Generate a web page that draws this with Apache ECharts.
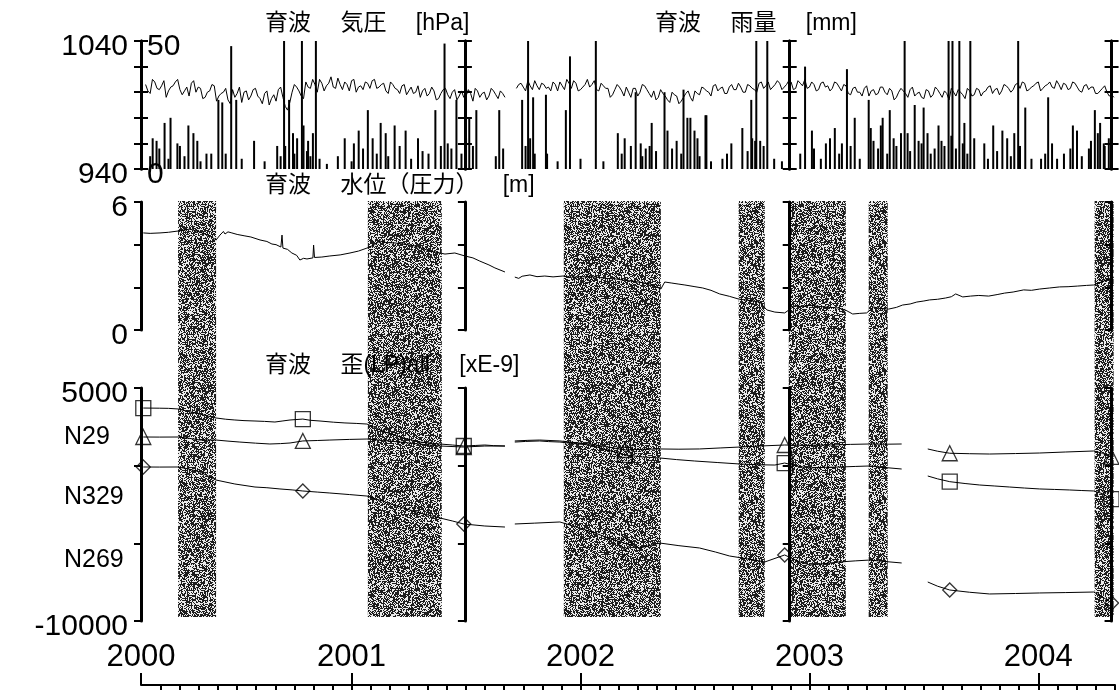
<!DOCTYPE html>
<html>
<head>
<meta charset="utf-8">
<script src="https://cdn.jsdelivr.net/npm/echarts@6.0.0/dist/echarts.min.js"></script>
<style>
  html, body { margin: 0; padding: 0; background: #fff; }
  #chart { width: 1119px; height: 690px; }
</style>
</head>
<body>
<div id="chart"></div>
<script>
// ---- data (years as decimal years) ----
const xMin = 2000.08;
const xMax = 2004.335;
const pageEdges = [2000.08, 2001.495, 2002.914, 2004.32];   // 各ページの縦軸位置
const yearTicks = [2000.08, 2001, 2002, 2003, 2004];

// 気圧 [hPa] 0.02年ごとのサンプル（Mid は 0.01年ずらした点）
const pressStep = 0.02;
const pressStart1 = 2000.10;
const pressure1 = [
  1006, 999, 1008, 1002, 1009, 1001, 1005, 1010, 998, 1004,
  1007, 1000, 1003, 996, 1001, 1005, 997, 1000, 994, 1002,
  999, 992, 1001, 997, 1003, 995, 999, 990, 998, 1002,
  996, 986, 1000, 1004, 997, 1008, 1003, 1006, 1010, 1001,
  1007, 1004, 1011, 1002, 1006, 1009, 1000, 1005, 1008, 1003,
  1010, 1004, 1007, 999, 1006, 1002, 1005, 998, 1004, 1000,
  996, 1003, 999, 1001, 995, 1002, 998, 1000, 994, 1001,
  997, 999, 1003, 996, 1000, 997, 1001, 995, 999
];
const pressure1Mid = [
  1001, 1010, 1003, 1005, 996, 1004, 1008, 1002, 1001, 997,
  1009, 1004, 995, 1000, 1006, 993, 999, 1003, 991, 996,
  1004, 1000, 994, 1002, 997, 991, 1001, 995, 993, 1004,
  989, 992, 1006, 1001, 995, 1004, 1010, 1000, 1007, 1005,
  1012, 1003, 1006, 1008, 1001, 1010, 1004, 1002, 1007, 1009,
  1003, 1006, 1001, 1008, 1003, 999, 1006, 1001, 999, 1005,
  1001, 997, 1004, 994, 999, 1003, 995, 1002, 997, 996,
  1002, 993, 1001, 999, 994, 1003, 998, 1001, 996
];
const pressStart2 = 2001.72;
const pressure2 = [
  1003, 1007, 1001, 1005, 1009, 1002, 1006, 1004, 1008, 1001,
  1005, 1010, 1003, 1007, 1002, 1006, 1004, 1009, 1001, 1005,
  1003, 998, 1006, 1001, 1004, 996, 1003, 1000, 1005, 999,
  1001, 996, 999, 994, 1000, 997, 993, 999, 996, 1001,
  998, 1003, 1000, 1005, 1001, 1004, 999, 1006, 1002, 1004,
  1000, 1005, 1002, 1007, 1003, 1008, 1004, 1009, 1002, 1006,
  1008, 1003, 1007, 1010, 1004, 1006, 1002, 1008, 1005, 1003,
  1007, 1001, 1005, 998, 1004, 1000, 1003, 997, 1002, 999,
  1004, 998, 1001, 996, 1003, 999, 1002, 997, 1000, 995,
  1001, 998, 1002, 996, 999, 1003, 997, 1000, 995, 1001,
  998, 1002, 1000, 1004, 999, 1003, 1001, 1005, 1000, 1006,
  1003, 1007, 1002, 1005, 1008, 1003, 1006, 1004, 1009, 1002,
  1006, 1003, 1007, 1001, 1005, 1002, 1004, 999, 1003, 1000,
  998
];
const pressure2Mid = [
  1006, 1004, 1009, 1002, 1005, 1007, 1003, 1001, 1006, 1008,
  1002, 1007, 1009, 1001, 1004, 1010, 1006, 1002, 1007, 1003,
  996, 1002, 1004, 997, 1000, 1003, 997, 1006, 1002, 996,
  994, 1002, 997, 992, 998, 991, 996, 1001, 993, 999,
  1004, 1001, 997, 1006, 1003, 999, 1004, 1002, 1007, 1000,
  1006, 1003, 1000, 1008, 1005, 1002, 1006, 1007, 1004, 1009,
  1002, 1009, 1005, 1003, 1008, 1001, 1007, 1004, 1001, 1008,
  1004, 1006, 999, 1003, 1000, 997, 1005, 1001, 998, 1004,
  1000, 1003, 994, 1000, 1001, 996, 1004, 999, 996, 1002,
  996, 1004, 999, 1001, 994, 1000, 1002, 998, 1003, 997,
  1003, 997, 1001, 1005, 1002, 998, 1006, 1003, 1002, 1007,
  1008, 1001, 1004, 1007, 1001, 1005, 1008, 1003, 1006, 1007,
  1002, 1008, 1004, 1000, 1006, 1004, 999, 1001, 1005, 997,
  996
];

// 雨量 [mm]
const rain = [
  [2000.12,5],[2000.131,12],[2000.148,11],[2000.16,8],[2000.183,18],[2000.20,4],[2000.209,20],
  [2000.239,10],[2000.25,9],[2000.27,5],[2000.287,17],[2000.309,14],[2000.326,11],[2000.34,3],
  [2000.366,6],[2000.387,6],[2000.418,27],[2000.435,26],[2000.45,6],[2000.474,48],[2000.496,27],
  [2000.52,4],[2000.574,11],[2000.62,3],[2000.675,9],[2000.69,5],[2000.705,60],[2000.71,9],
  [2000.727,27],[2000.744,14],[2000.75,6],[2000.762,12],[2000.783,60],[2000.79,17],[2000.805,7],
  [2000.81,11],[2000.82,5],[2000.831,14],[2000.844,60],[2000.86,4],[2000.892,2],[2000.94,5],
  [2000.970,12],[2001.00,3],[2001.010,10],[2001.031,15],[2001.05,8],[2001.071,23],[2001.092,12],
  [2001.11,6],[2001.127,18],[2001.149,14],[2001.16,5],[2001.188,17],[2001.21,9],[2001.236,15],
  [2001.26,4],[2001.29,12],[2001.310,7],[2001.336,6],[2001.366,23],[2001.39,9],[2001.406,49],
  [2001.42,10],[2001.436,8],[2001.458,27],[2001.48,6],[2001.50,12],[2001.514,20],[2001.53,9],
  [2001.545,23],[2001.63,5],[2001.645,23],[2001.662,8],
  [2001.745,27],[2001.76,9],[2001.771,60],[2001.78,12],[2001.793,28],[2001.80,6],[2001.849,29],
  [2001.854,6],[2001.90,3],[2001.936,23],[2001.954,44],[2002.00,4],[2002.067,60],[2002.10,3],
  [2002.163,14],[2002.18,6],[2002.193,12],[2002.22,9],[2002.241,30],[2002.263,10],[2002.27,5],
  [2002.285,8],[2002.302,9],[2002.311,18],[2002.33,7],[2002.367,30],[2002.380,15],[2002.40,8],
  [2002.42,11],[2002.44,6],[2002.450,31],[2002.467,20],[2002.480,20],[2002.498,15],[2002.511,12],
  [2002.52,5],[2002.546,21],[2002.550,21],[2002.57,3],[2002.620,4],[2002.64,6],[2002.659,10],
  [2002.707,16],[2002.73,7],[2002.746,27],[2002.75,12],[2002.763,11],[2002.768,60],[2002.785,11],
  [2002.80,9],[2002.816,60],[2002.846,4],[2002.88,3],[2002.911,12],[2002.96,6],[2002.981,40],
  [2003.011,15],[2003.02,8],[2003.05,4],[2003.072,10],[2003.09,12],[2003.111,16],[2003.13,6],
  [2003.142,10],[2003.164,39],[2003.18,9],[2003.198,20],[2003.22,4],[2003.259,27],[2003.268,16],
  [2003.28,11],[2003.30,8],[2003.312,17],[2003.320,20],[2003.34,6],[2003.351,23],[2003.368,12],
  [2003.38,9],[2003.40,14],[2003.416,60],[2003.429,14],[2003.44,7],[2003.460,25],[2003.477,11],
  [2003.49,10],[2003.499,24],[2003.516,14],[2003.53,6],[2003.547,8],[2003.564,17],[2003.577,11],
  [2003.59,9],[2003.608,60],[2003.62,13],[2003.625,60],[2003.64,8],[2003.655,60],[2003.67,10],
  [2003.677,18],[2003.69,6],[2003.703,60],[2003.72,12],[2003.764,10],[2003.78,4],[2003.803,17],
  [2003.82,7],[2003.843,15],[2003.864,12],[2003.88,5],[2003.895,14],[2003.912,60],[2003.92,9],
  [2003.943,24],[2003.97,4],[2004.012,4],[2004.03,6],[2004.043,28],[2004.06,10],[2004.082,4],
  [2004.112,6],[2004.14,8],[2004.151,17],[2004.169,15],[2004.19,5],[2004.221,8],[2004.23,11],
  [2004.247,23],[2004.260,14],[2004.27,18],[2004.286,10],[2004.29,9],[2004.308,12],[2004.32,15]
];

// 水位 [m]  (null = 欠測)
const waterLevel = [
  [2000.09,4.55],[2000.12,4.53],[2000.163,4.55],[2000.20,4.58],[2000.242,4.64],[2000.294,4.73],
  [2000.338,4.59],[2000.381,4.41],[2000.408,4.22],[2000.425,4.45],[2000.44,4.62],[2000.447,4.50],
  [2000.46,4.60],[2000.477,4.55],[2000.50,4.48],[2000.534,4.41],[2000.56,4.36],[2000.60,4.22],
  [2000.63,4.15],[2000.652,4.03],[2000.67,4.00],[2000.691,3.89],[2000.696,4.45],[2000.70,3.84],
  [2000.72,3.78],[2000.739,3.61],[2000.76,3.50],[2000.774,3.28],[2000.79,3.36],[2000.805,3.33],
  [2000.831,3.38],[2000.834,3.98],[2000.838,3.40],[2000.87,3.42],[2000.905,3.47],[2000.95,3.52],
  [2000.993,3.61],[2001.03,3.70],[2001.067,3.84],[2001.10,4.00],[2001.124,4.17],[2001.15,4.10],
  [2001.189,4.08],[2001.23,4.02],[2001.277,3.94],[2001.31,3.82],[2001.342,3.70],[2001.408,3.56],
  [2001.451,3.61],[2001.495,3.47],[2001.53,3.38],[2001.560,3.23],[2001.60,3.05],[2001.626,2.91],
  [2001.670,2.72],[2001.69,null],
  [2001.713,2.48],[2001.73,2.42],[2001.745,2.52],[2001.779,2.58],[2001.81,2.50],[2001.844,2.53],
  [2001.88,2.49],[2001.923,2.53],[2001.96,2.47],[2002.0,2.50],[2002.067,2.48],[2002.11,2.42],
  [2002.15,2.40],[2002.19,2.33],[2002.220,2.30],[2002.26,2.24],[2002.303,2.16],[2002.351,1.92],
  [2002.368,2.25],[2002.399,2.20],[2002.43,2.15],[2002.456,2.11],[2002.50,2.03],[2002.534,1.97],
  [2002.57,1.86],[2002.608,1.69],[2002.65,1.58],[2002.691,1.45],[2002.74,1.38],[2002.783,1.31],
  [2002.814,0.94],[2002.849,0.84],[2002.892,0.80],[2002.936,1.13],[2002.97,1.10],[2003.001,1.17],
  [2003.03,1.12],[2003.067,1.08],[2003.128,1.03],[2003.16,0.92],[2003.189,0.75],[2003.22,0.78],
  [2003.250,0.80],[2003.281,1.08],[2003.31,1.00],[2003.346,0.98],[2003.38,1.06],[2003.407,1.17],
  [2003.44,1.22],[2003.469,1.31],[2003.50,1.36],[2003.525,1.41],[2003.56,1.44],[2003.595,1.50],
  [2003.62,1.56],[2003.639,1.69],[2003.670,1.55],[2003.704,1.59],[2003.74,1.62],[2003.783,1.59],
  [2003.82,1.66],[2003.853,1.73],[2003.89,1.78],[2003.936,1.88],[2003.97,1.86],[2004.006,1.92],
  [2004.05,1.97],[2004.093,2.02],[2004.13,2.03],[2004.172,2.06],[2004.21,2.09],[2004.242,2.11],
  [2004.329,2.48]
];

// 歪 [xE-9]
const strainNames = ['N29', 'N329', 'N269'];
const strainN29 = [
  [2000.09,3710],[2000.16,3700],[2000.20,3690],[2000.242,3650],[2000.316,3390],[2000.408,3070],
  [2000.45,2990],[2000.49,2940],[2000.53,2900],[2000.578,2875],[2000.62,2850],[2000.665,2810],
  [2000.70,2880],[2000.731,2940],[2000.787,3000],[2000.82,2920],[2000.862,2875],[2000.92,2800],
  [2000.971,2750],[2001.02,2720],[2001.067,2680],[2001.146,2170],[2001.211,1845],[2001.298,1520],
  [2001.386,1395],[2001.44,1330],[2001.49,1265],[2001.54,1300],[2001.582,1330],[2001.62,1290],
  [2001.67,1265],[2001.69,null],
  [2001.713,1520],[2001.76,1560],[2001.822,1590],[2001.86,1550],[2001.91,1520],[2001.97,1420],
  [2002.041,1330],[2002.12,1000],[2002.194,690],[2002.27,560],[2002.346,495],[2002.42,390],
  [2002.499,300],[2002.60,200],[2002.696,107],[2002.77,60],[2002.849,40],[2002.892,170],
  [2002.95,-40],[2003.001,-150],[2003.07,-110],[2003.132,-86],[2003.20,-50],[2003.264,-20],
  [2003.33,-120],[2003.403,-215],[2003.45,null],
  [2003.517,-665],[2003.56,-850],[2003.613,-1030],[2003.68,-1150],[2003.744,-1245],[2003.81,-1310],
  [2003.875,-1375],[2003.94,-1440],[2004.006,-1500],[2004.07,-1530],[2004.137,-1565],
  [2004.19,-1600],[2004.242,-1630],[2004.28,-1800],[2004.32,-2150]
];
const strainN329 = [
  [2000.09,1845],[2000.16,1840],[2000.242,1845],[2000.29,1760],[2000.338,1650],[2000.408,1650],
  [2000.46,1580],[2000.512,1520],[2000.58,1450],[2000.643,1395],[2000.69,1420],[2000.731,1460],
  [2000.787,1590],[2000.85,1620],[2000.905,1650],[2000.99,1690],[2001.067,1715],[2001.14,1620],
  [2001.211,1520],[2001.30,1390],[2001.386,1265],[2001.49,1200],[2001.582,1265],[2001.67,1265],
  [2001.69,null],
  [2001.713,1590],[2001.77,1630],[2001.822,1650],[2001.91,1590],[2001.98,1480],[2002.041,1395],
  [2002.12,1200],[2002.194,1010],[2002.27,1050],[2002.346,1075],[2002.43,1060],[2002.52,1075],
  [2002.61,1140],[2002.696,1200],[2002.79,1270],[2002.892,1330],[2002.99,1310],[2003.089,1330],
  [2003.18,1370],[2003.264,1395],[2003.33,1380],[2003.403,1395],[2003.45,null],
  [2003.517,1075],[2003.56,930],[2003.613,800],[2003.70,770],[2003.787,750],[2003.90,780],
  [2004.006,815],[2004.12,880],[2004.242,945],[2004.28,800],[2004.32,560]
];
const strainN269 = [
  [2000.09,-85],[2000.16,-90],[2000.242,-85],[2000.29,-220],[2000.338,-410],[2000.408,-925],
  [2000.49,-1180],[2000.578,-1375],[2000.63,-1420],[2000.687,-1500],[2000.74,-1560],
  [2000.787,-1630],[2000.85,-1700],[2000.905,-1760],[2000.99,-1860],[2001.067,-1955],
  [2001.14,-2300],[2001.211,-2660],[2001.30,-3050],[2001.386,-3370],[2001.44,-3560],
  [2001.49,-3755],[2001.582,-3885],[2001.67,-3950],[2001.69,null],
  [2001.713,-3755],[2001.80,-3700],[2001.91,-3625],[2001.99,-3980],[2002.063,-4335],
  [2002.13,-4700],[2002.194,-5000],[2002.26,-5300],[2002.346,-4980],[2002.43,-5150],
  [2002.52,-5300],[2002.59,-5560],[2002.651,-5815],[2002.73,-6000],[2002.805,-6200],
  [2002.892,-5750],[2002.95,-6150],[2003.001,-6395],[2003.07,-6300],[2003.132,-6200],
  [2003.20,-6130],[2003.264,-6075],[2003.33,-6170],[2003.403,-6265],[2003.45,null],
  [2003.517,-7490],[2003.56,-7760],[2003.613,-8005],[2003.70,-8150],[2003.787,-8260],
  [2003.90,-8230],[2004.006,-8195],[2004.12,-8170],[2004.242,-8135],[2004.28,-8450],
  [2004.32,-8840]
];
const markerYears = [2000.09, 2000.787, 2001.49, 2002.194, 2002.892, 2003.613, 2004.32];

// 欠測・作業期間（網掛け）
const bands = [
  [2000.242, 2000.408], [2001.071, 2001.394], [2001.927, 2002.351], [2002.691, 2002.805],
  [2002.910, 2003.159], [2003.259, 2003.342], [2004.246, 2004.329]
];

// ---- layout ----
const GRID_LEFT = 141;
const GRID_W = 974;
const FONT = "'Liberation Sans', 'Noto Sans CJK JP', sans-serif";

function interleave(start, step, values, mids) {
  const out = [];
  values.forEach((v, i) => {
    out.push([+(start + i * step).toFixed(3), v]);
    if (mids[i] !== undefined) out.push([+(start + i * step + step / 2).toFixed(3), mids[i]]);
  });
  return out;
}
function withGaps(arr) {
  return arr.map(d => [d[0], d[1] === null ? '-' : d[1]]);
}

const pressureData = interleave(pressStart1, pressStep, pressure1, pressure1Mid)
  .concat([[2001.69, '-']])
  .concat(interleave(pressStart2, pressStep, pressure2, pressure2Mid));

// 網掛け用のノイズ模様
function makeNoise(size) {
  const c = document.createElement('canvas');
  c.width = c.height = size;
  const ctx = c.getContext('2d');
  const img = ctx.createImageData(size, size);
  let s = 987654321;
  for (let i = 0; i < size * size; i++) {
    s = (Math.imul(s, 1103515245) + 12345) >>> 0;
    const v = ((s >>> 16) & 0xff) < 150 ? 30 : 235;
    img.data[i * 4] = img.data[i * 4 + 1] = img.data[i * 4 + 2] = v;
    img.data[i * 4 + 3] = 255;
  }
  ctx.putImageData(img, 0, 0);
  return c;
}
const noise = makeNoise(128);

const chart = echarts.init(document.getElementById('chart'));

const grids = [
  { top: 41, height: 128 },   // 気圧・雨量
  { top: 202, height: 128 },  // 水位
  { top: 388, height: 233 },  // 歪
  { top: 201, height: 416 },  // 網掛け
  { top: 685, height: 1 }     // 年軸
].map(g => Object.assign({ left: GRID_LEFT, width: GRID_W, outerBoundsMode: 'none' }, g));

const xAxes = [0, 1, 2, 3].map(i => ({
  type: 'value', gridIndex: i, min: xMin, max: xMax, show: false
}));
xAxes.push({
  type: 'value', gridIndex: 4, min: xMin, max: xMax, position: 'top',
  axisLine: { show: true, onZero: false, lineStyle: { color: '#000', width: 2 } },
  axisTick: { show: true, inside: false, length: 12, customValues: yearTicks,
              lineStyle: { color: '#000', width: 2 } },
  axisLabel: { show: true, customValues: yearTicks, margin: 12, color: '#000',
               fontFamily: FONT, fontSize: 31, formatter: v => String(Math.round(v)) },
  splitLine: { show: false }
});
const monthTicks = [];
for (let m = 2; m <= 52; m++) monthTicks.push(2000 + m / 12);
xAxes.push({
  type: 'value', gridIndex: 4, min: xMin, max: xMax, position: 'top',
  axisLine: { show: false, onZero: false },
  axisTick: { show: true, inside: true, length: 8, customValues: monthTicks,
              lineStyle: { color: '#000', width: 2 } },
  axisLabel: { show: false },
  splitLine: { show: false }
});

const yAxes = [];
function offsetFor(yr) {
  return -(yr - xMin) / (xMax - xMin) * GRID_W;
}
function addPanelAxes(gridIndex, min, max, interval, tickInside, labelInside) {
  const first = yAxes.length;
  pageEdges.forEach((yr, i) => {
    yAxes.push({
      type: 'value', gridIndex, min, max, interval, position: 'left',
      offset: offsetFor(yr), z: 4,
      axisLine: { show: true, onZero: false, lineStyle: { color: '#000', width: 3 } },
      axisTick: { show: true, inside: tickInside, length: 7, lineStyle: { color: '#000', width: 2 } },
      axisLabel: {
        show: i === 0, inside: labelInside, margin: labelInside ? 6 : 13,
        color: '#000', fontFamily: FONT, fontSize: 30,
        verticalAlign: 'top', lineHeight: 12,
        formatter: v => (v === min || v === max) ? String(v) : ''
      },
      splitLine: { show: false }
    });
  });
  return first;
}
const pressAxis = addPanelAxes(0, 940, 1040, 20, false, false);
const rainAxis = addPanelAxes(0, 0, 50, 10, true, true);
const waterAxis = addPanelAxes(1, 0, 6, 2, false, false);
const strainAxis = addPanelAxes(2, -10000, 5000, 5000, false, false);
const bandY = yAxes.length;
yAxes.push({ type: 'value', gridIndex: 3, min: 0, max: 1, show: false });
yAxes.push({ type: 'value', gridIndex: 4, min: 0, max: 1, show: false });

const lineBase = {
  type: 'line', symbol: 'none', clip: true, connectNulls: false, z: 3,
  lineStyle: { color: '#000', width: 1 }, animation: false
};

const strainSets = [strainN29, strainN329, strainN269];
const markerSymbols = ['rect', 'triangle', 'diamond'];
const markerSizes = [15, 15, 14];

const series = [
  {
    type: 'custom', xAxisIndex: 3, yAxisIndex: bandY, z: 1,
    data: bands, encode: { x: [0, 1] },
    renderItem: (params, api) => {
      const p0 = api.coord([api.value(0), 1]);
      const p1 = api.coord([api.value(1), 0]);
      return {
        type: 'rect',
        shape: { x: p0[0], y: p0[1], width: p1[0] - p0[0], height: p1[1] - p0[1] },
        style: { fill: { image: noise, repeat: 'repeat' } }
      };
    }
  },
  {
    type: 'bar', name: '雨量', xAxisIndex: 0, yAxisIndex: rainAxis, data: rain,
    barWidth: 2, clip: true, itemStyle: { color: '#000' }, z: 2
  },
  Object.assign({}, lineBase, { name: '気圧', xAxisIndex: 0, yAxisIndex: pressAxis, data: pressureData }),
  Object.assign({}, lineBase, { name: '水位', xAxisIndex: 1, yAxisIndex: waterAxis, data: withGaps(waterLevel) })
];

strainSets.forEach((set, k) => {
  series.push(Object.assign({}, lineBase, {
    name: strainNames[k], xAxisIndex: 2, yAxisIndex: strainAxis, data: withGaps(set)
  }));
  series.push({
    type: 'scatter', name: strainNames[k] + ' mark', xAxisIndex: 2, yAxisIndex: strainAxis, z: 4,
    clip: true,
    data: set.filter(d => d[1] !== null && markerYears.some(y => Math.abs(y - d[0]) < 0.0005)),
    symbol: markerSymbols[k], symbolSize: markerSizes[k],
    itemStyle: { color: 'rgba(0,0,0,0)', borderColor: '#000', borderWidth: 1.3 }
  });
});

const titleStyle = { fill: '#000', fontSize: 23, fontFamily: FONT };
const graphics = [
  { text: '育波　 気圧　 [hPa]', left: 265, top: 12 },
  { text: '育波　 雨量　 [mm]', left: 655, top: 12 },
  { text: '育波　 水位（圧力）　  [m]', left: 265, top: 174 },
  { text: '育波　 歪(LP)all　 [xE-9]', left: 265, top: 354 }
].map(t => ({
  type: 'text', left: t.left, top: t.top, zlevel: 1, z: 100,
  style: Object.assign({ text: t.text }, titleStyle)
}));
const nameTops = [425, 485, 548];
strainNames.forEach((n, i) => {
  graphics.push({
    type: 'text', left: 64, top: nameTops[i], zlevel: 1, z: 100,
    style: { text: n, fill: '#000', fontSize: 25, fontFamily: FONT }
  });
});

chart.setOption({
  animation: false,
  backgroundColor: '#fff',
  grid: grids,
  xAxis: xAxes,
  yAxis: yAxes,
  series: series,
  graphic: graphics
});
</script>
</body>
</html>
